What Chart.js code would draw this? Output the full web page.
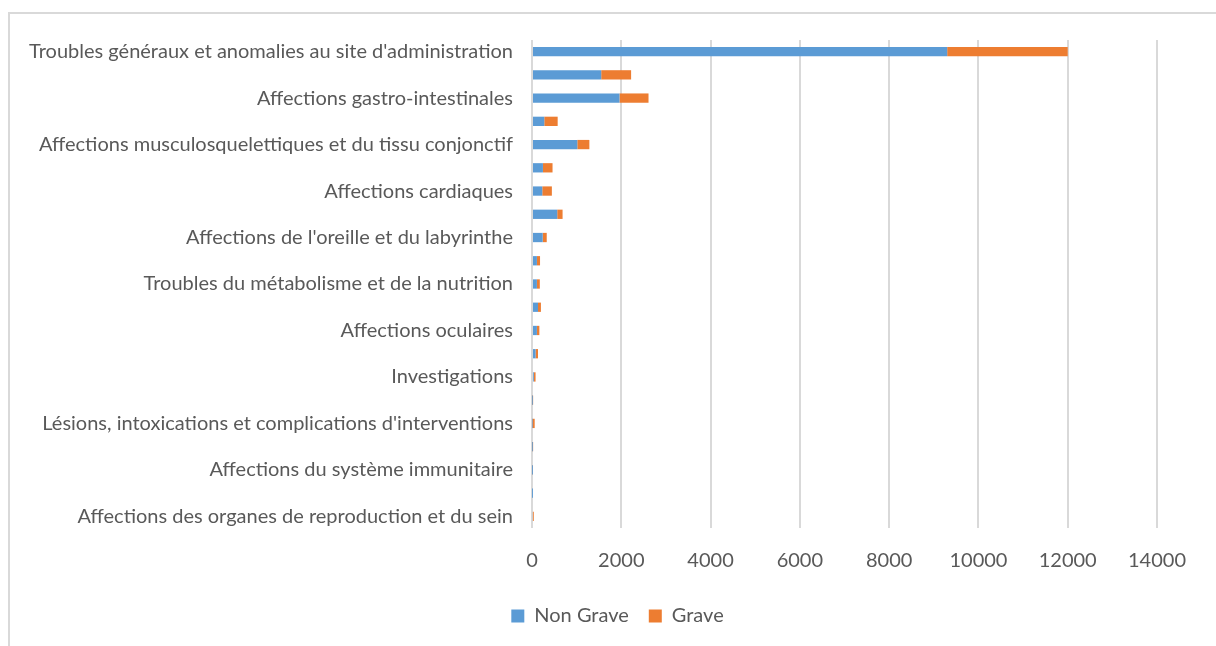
<!DOCTYPE html>
<html>
<head>
<meta charset="utf-8">
<script src="https://cdn.jsdelivr.net/npm/chart.js@4"></script>
<style>
  html, body { margin: 0; padding: 0; background: #fff; overflow: hidden; }
  #wrap { position: relative; width: 1216px; height: 646px; }
  #frame { position: absolute; left: 8px; top: 12px; width: 1400px; height: 800px;
           border-left: 2px solid #d9d9d9; border-top: 2px solid #d9d9d9; }
  canvas { position: absolute; left: 0; top: 0; }
</style>
</head>
<body>
<div id="wrap">
  <div id="frame"></div>
  <canvas id="c" width="1216" height="646"></canvas>
</div>
<script>
const categories = [
  "Troubles généraux et anomalies au site d'administration",
  "Affections du système nerveux",
  "Affections gastro-intestinales",
  "Affections respiratoires, thoraciques et médiastinales",
  "Affections musculosquelettiques et du tissu conjonctif",
  "Affections vasculaires",
  "Affections cardiaques",
  "Affections de la peau et du tissu sous-cutané",
  "Affections de l'oreille et du labyrinthe",
  "Affections psychiatriques",
  "Troubles du métabolisme et de la nutrition",
  "Infections et infestations",
  "Affections oculaires",
  "Affections hématologiques et du système lymphatique",
  "Investigations",
  "Affections du rein et des voies urinaires",
  "Lésions, intoxications et complications d'interventions",
  "Affections hépatobiliaires",
  "Affections du système immunitaire",
  "Affections endocriniennes",
  "Affections des organes de reproduction et du sein"
];
const nonGrave = [9300, 1550, 1960, 275, 1015, 245, 230, 565, 240, 110, 110, 135, 110, 80, 40, 5, 10, 5, 3, 2, 20];
const grave    = [2700, 670, 650, 300, 270, 215, 215, 120, 90, 70, 65, 65, 55, 55, 40, 20, 50, 20, 12, 3, 20];
const xTicks = [0, 2000, 4000, 6000, 8000, 10000, 12000, 14000];

const FONT = "Lato, 'Open Sans', sans-serif";
const TXT = '#595959';

const shiftLegend = {
  id: 'shiftLegend',
  afterLayout(chart) {
    const lg = chart.legend;
    if (lg) { lg.left += 78; if (lg.adjustHitBoxes) lg.adjustHitBoxes(); }
  }
};

new Chart(document.getElementById('c'), {
  type: 'bar',
  data: {
    labels: categories,
    datasets: [
      { label: 'Non Grave', data: nonGrave, backgroundColor: '#5b9bd5', categoryPercentage: 1, barPercentage: 0.4 },
      { label: 'Grave', data: grave, backgroundColor: '#ed7d31', categoryPercentage: 1, barPercentage: 0.4 }
    ]
  },
  plugins: [shiftLegend],
  options: {
    indexAxis: 'y',
    responsive: false,
    animation: false,
    devicePixelRatio: 1,
    layout: { padding: { left: 0, right: 59, top: 40, bottom: 10 } },
    plugins: {
      legend: {
        position: 'bottom',
        labels: { boxWidth: 13, boxHeight: 13, color: TXT, font: { family: FONT, size: 20 }, padding: 20 }
      },
      tooltip: { enabled: false }
    },
    scales: {
      x: {
        stacked: true,
        min: 0, max: 14000,
        afterBuildTicks: (s) => { s.ticks = xTicks.map(v => ({ value: v })); },
        grid: { color: '#d9d9d9', lineWidth: 2, drawTicks: false },
        border: { display: false },
        ticks: { color: TXT, font: { family: FONT, size: 20 }, padding: 21, callback: (v) => String(v) },
        afterFit: (s) => { s.height = 58; }
      },
      y: {
        stacked: true,
        grid: { display: false },
        border: { display: false },
        ticks: {
          autoSkip: false,
          color: TXT,
          font: { family: FONT, size: 20 },
          padding: 11,
          callback: function (v, i) { return i % 2 === 0 ? categories[i] : ''; }
        },
        afterFit: (s) => { s.width = 532; }
      }
    }
  }
});
</script>
</body>
</html>
